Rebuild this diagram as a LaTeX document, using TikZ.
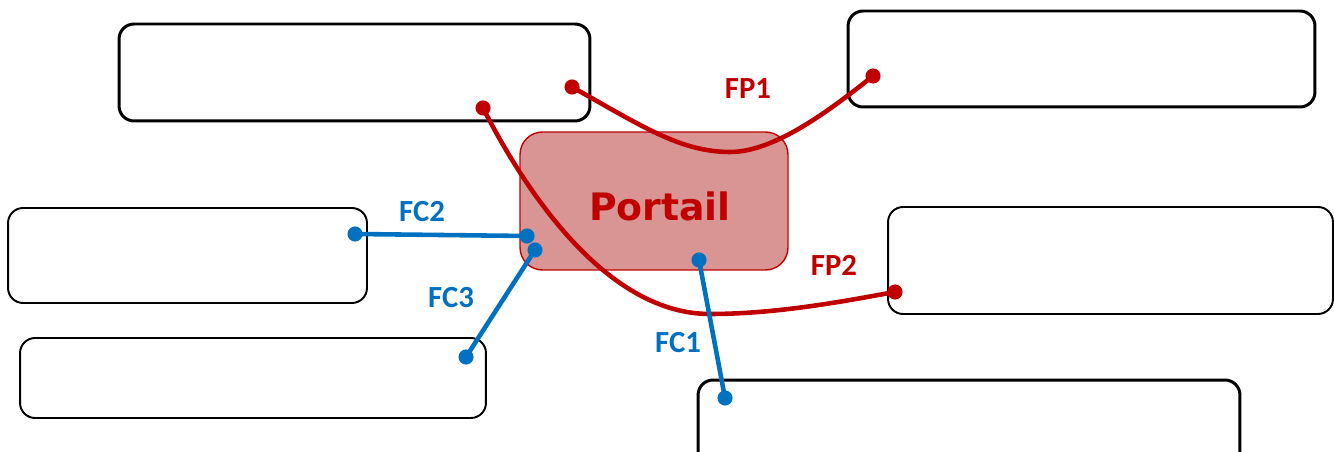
\documentclass[tikz,border=0pt]{standalone}
\usepackage{fontspec}
\setmainfont{Carlito}
\newfontfamily\heavyfont{DejaVu Sans}
\definecolor{portred}{HTML}{C00000}
\definecolor{portfill}{HTML}{D99594}
\definecolor{fcblue}{HTML}{0070C0}
\begin{document}
\begin{tikzpicture}[x=0.02cm, y=-0.02cm,
    box/.style={draw=black, line width=1.1pt, rounded corners=0.3cm, fill=white, inner sep=0pt},
    thickbox/.style={box, line width=1.7pt},
    portail/.style={draw=portred, line width=0.8pt, fill=portfill, rounded corners=0.45cm, inner sep=0pt},
    fpline/.style={draw=portred, line width=2.6pt},
    fcline/.style={draw=fcblue, line width=2.6pt},
    lab/.style={font=\bfseries\fontsize{17.5}{20}\selectfont, inner sep=0pt}]
  \useasboundingbox (0,0) rectangle (1334,452);
  % boxes round the portal
  \node[thickbox, minimum width=9.42cm, minimum height=1.94cm] (boxA) at (354.5,72.5) {};
  \node[thickbox, minimum width=9.34cm, minimum height=1.92cm] (boxB) at (1081.5,59) {};
  \node[box, minimum width=7.18cm, minimum height=1.9cm] (boxC) at (187.5,255.5) {};
  \node[box, minimum width=8.9cm, minimum height=2.14cm] (boxD) at (1110.5,260.5) {};
  \node[box, minimum width=9.32cm, minimum height=1.6cm] (boxE) at (253,378) {};
  \node[thickbox, minimum width=10.84cm, minimum height=2cm] (boxF) at (969,430) {};
  \node[portail, minimum width=5.36cm, minimum height=2.76cm] (portal) at (654,201) {};
  \node[font=\heavyfont\bfseries\fontsize{21.5}{24}\selectfont, text=portred] (portlab) at (660,206) {Portail};

  % end points of the functions
  \coordinate (fp1a) at (572,87);
  \coordinate (fp1b) at (873,76);
  \coordinate (fp2a) at (483,108);
  \coordinate (fp2b) at (895,292);
  \coordinate (fc2a) at (355,234);
  \coordinate (fc2b) at (527,236);
  \coordinate (fc3a) at (535,250);
  \coordinate (fc3b) at (466,357);
  \coordinate (fc1a) at (699,260);
  \coordinate (fc1b) at (725,398);

  % principal functions
  \draw[fpline] (fp1a) .. controls (640,125) and (680,152) .. (730,152)
    .. controls (775,152) and (830,110) .. (fp1b);
  \draw[fpline] (fp2a) .. controls (530,200) and (610,314) .. (710,314)
    .. controls (780,314) and (850,300) .. (fp2b);
  \foreach \p in {fp1a, fp1b, fp2a, fp2b} \fill[portred] (\p) circle (4.3pt);

  % constraint functions
  \draw[fcline] (fc2a) -- (fc2b);
  \draw[fcline] (fc3a) -- (fc3b);
  \draw[fcline] (fc1a) -- (fc1b);
  \foreach \p in {fc1a, fc1b, fc2a, fc2b, fc3a, fc3b} \fill[fcblue] (\p) circle (4.3pt);

  % labels
  \node[lab, text=portred] (fp1) at (748,89) {FP1};
  \node[lab, text=portred] (fp2) at (834,265) {FP2};
  \node[lab, text=fcblue] (fc2) at (422,212) {FC2};
  \node[lab, text=fcblue] (fc3) at (451,298) {FC3};
  \node[lab, text=fcblue] (fc1) at (678,343) {FC1};
\end{tikzpicture}
\end{document}
